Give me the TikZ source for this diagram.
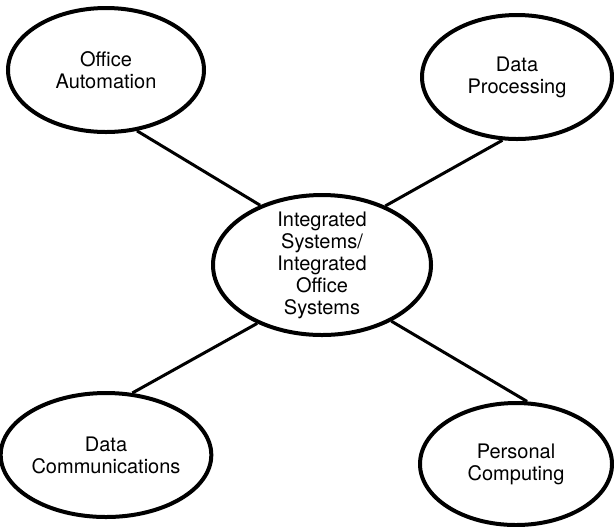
\documentclass[tikz,border=0pt]{standalone}
\usepackage{fontspec}
\setmainfont{TeX Gyre Heros}
\usetikzlibrary{shapes.geometric}
\tikzset{
  topic/.style={draw, black, ellipse, line width=2pt, inner sep=0pt,
    align=center, font=\fontsize{10}{11}\selectfont},
  link/.style={black, line width=1.5pt}
}

\begin{document}
\begin{tikzpicture}[x=0.5pt,y=-0.5pt]
\useasboundingbox (0,0) rectangle (614,526);
% the hub
\node[topic, minimum width=109pt, minimum height=70pt, inner ysep=-3pt] (hub) at (322,265)
  {Integrated\\Systems/\\Integrated\\Office\\Systems};
% the four corners
\node[topic, minimum width=98pt, minimum height=62pt] (office) at (106,70) {Office\\Automation};
\node[topic, minimum width=95pt, minimum height=62pt] (dataproc) at (517,77) {Data\\Processing};
\node[topic, minimum width=98pt, minimum height=62pt] (datacomm) at (106,455) {Data\\Communications};
\node[topic, minimum width=96pt, minimum height=61pt] (personal) at (516,464) {Personal\\Computing};
\draw[link] (office.-63) -- (hub.136);
\draw[link] (dataproc.-103) -- (hub.43);
\draw[link] (datacomm.67) -- (hub.-138);
\draw[link] (personal.80) -- (hub.-39);
\end{tikzpicture}
\end{document}
